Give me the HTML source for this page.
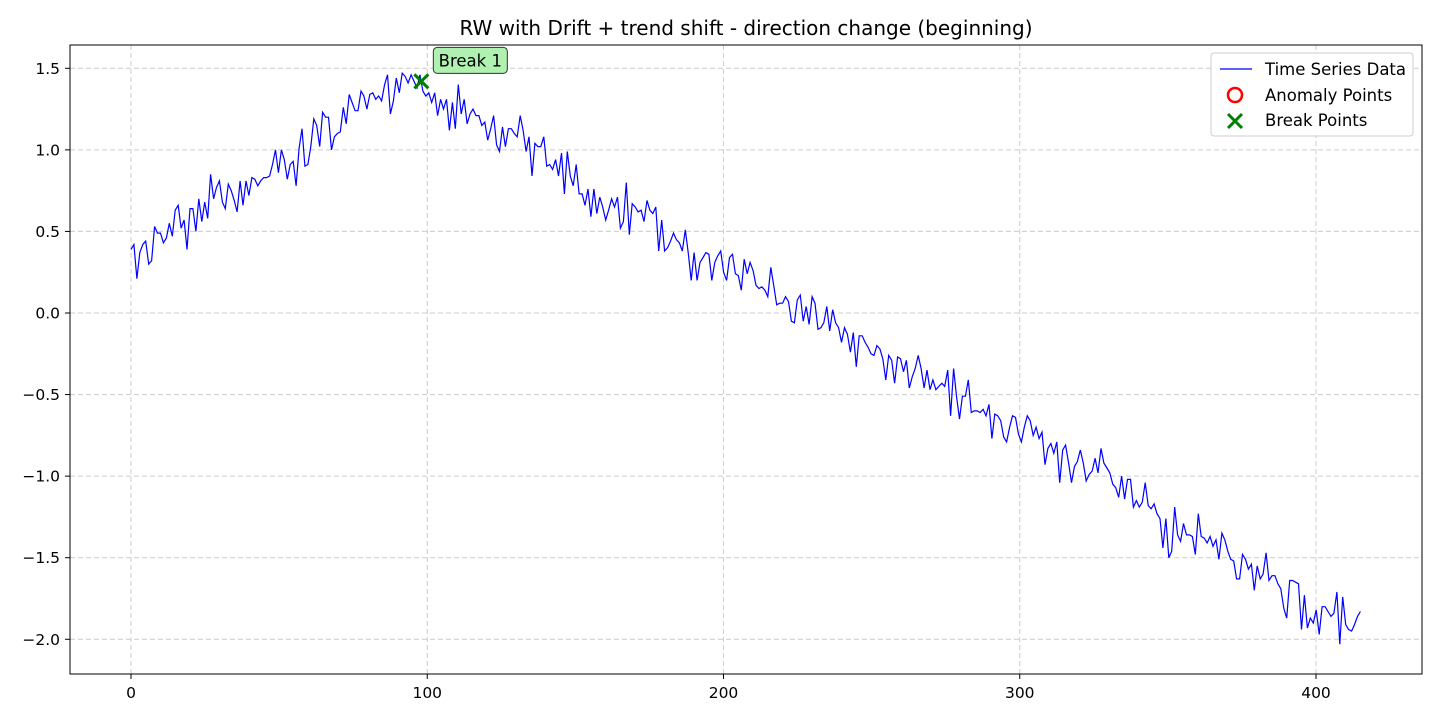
<!DOCTYPE html>
<html><head><meta charset="utf-8"><style>
body{margin:0;background:#fff;font-family:"Liberation Sans","DejaVu Sans",sans-serif}
svg text{font-family:"DejaVu Sans","Liberation Sans",sans-serif}
</style></head><body>
<svg id="c" width="1440" height="720" xmlns="http://www.w3.org/2000/svg">
<rect width="1440" height="720" fill="#fff"/>
<text x="746" y="35" font-size="20" text-anchor="middle">RW with Drift + trend shift - direction change (beginning)</text>
<g id="grid"></g><g id="ticks"></g>
<path id="line" fill="none" stroke="#0000ff" stroke-width="1.2"/>
<g id="marks"></g>
<rect x="70" y="45" width="1352" height="629" fill="none" stroke="#000" stroke-width="1"/>
<g>
<rect x="1211" y="53" width="202" height="83" rx="3" fill="#fff" fill-opacity="0.85" stroke="#ccc"/>
<line x1="1220" y1="69" x2="1252" y2="69" stroke="#0000ff" stroke-width="1.2"/>
<text x="1265" y="75" font-size="16.5">Time Series Data</text>
<circle cx="1235" cy="95" r="7" fill="none" stroke="#ff0000" stroke-width="2.5"/>
<text x="1265" y="101" font-size="16.5">Anomaly Points</text>
<path d="M1228 114 L1242 128 M1242 114 L1228 128" stroke="#008000" stroke-width="3"/>
<text x="1265" y="126" font-size="16.5">Break Points</text>
</g>
</svg>
<script>
const values=[0.39,0.42,0.21,0.37,0.42,0.44,0.30,0.32,0.53,0.49,0.49,0.43,0.46,0.55,0.47,0.63,0.66,0.52,0.57,0.39,0.64,0.64,0.50,0.70,0.56,0.68,0.58,0.85,0.70,0.77,0.81,0.68,0.64,0.79,0.75,0.69,0.62,0.81,0.66,0.81,0.72,0.83,0.82,0.78,0.81,0.83,0.83,0.84,0.91,1.00,0.86,1.00,0.94,0.82,0.91,0.93,0.78,1.01,1.13,0.90,0.91,1.02,1.19,1.15,1.02,1.23,1.20,1.20,1.00,1.08,1.10,1.11,1.26,1.16,1.34,1.29,1.24,1.24,1.36,1.33,1.25,1.34,1.35,1.31,1.33,1.30,1.40,1.46,1.22,1.30,1.44,1.35,1.47,1.45,1.41,1.46,1.42,1.38,
1.46,1.36,1.33,1.35,1.29,1.35,1.21,1.31,1.25,1.31,1.12,1.29,1.13,1.40,1.22,1.31,1.16,1.22,1.25,1.21,1.21,1.15,1.17,1.06,1.13,1.21,1.03,0.99,1.14,1.02,1.13,1.13,1.10,1.08,1.21,1.12,0.99,1.08,0.84,1.04,1.02,1.02,1.08,0.90,0.91,0.88,0.94,0.84,0.98,0.73,0.99,0.84,0.78,0.91,0.73,0.73,0.66,0.76,0.59,0.76,0.61,0.71,0.65,0.57,0.63,0.70,0.65,0.71,0.52,0.56,0.80,0.48,0.67,0.65,0.62,0.63,0.56,0.69,0.63,0.61,0.65,0.38,0.57,0.38,0.40,0.44,0.49,0.45,0.43,0.38,0.51,0.37,0.20,0.37,0.20,0.31,0.34,0.37,
0.36,0.20,0.31,0.35,0.38,0.25,0.20,0.34,0.36,0.24,0.23,0.14,0.33,0.24,0.31,0.26,0.17,0.15,0.16,0.14,0.10,0.28,0.17,0.05,0.06,0.06,0.10,0.07,-0.05,-0.06,0.08,0.11,-0.05,0.04,-0.07,0.10,0.06,-0.10,-0.09,-0.06,0.04,-0.11,0.02,-0.06,-0.09,-0.18,-0.09,-0.13,-0.24,-0.12,-0.33,-0.14,-0.14,-0.18,-0.21,-0.25,-0.26,-0.20,-0.22,-0.28,-0.41,-0.26,-0.29,-0.43,-0.27,-0.28,-0.36,-0.29,-0.46,-0.39,-0.34,-0.26,-0.34,-0.46,-0.35,-0.47,-0.41,-0.47,-0.45,-0.43,-0.45,-0.35,-0.63,-0.34,-0.51,-0.65,-0.51,-0.51,-0.41,-0.61,-0.60,-0.60,-0.61,-0.59,-0.63,-0.56,-0.77,-0.62,-0.63,-0.66,-0.76,-0.79,-0.70,-0.63,
-0.64,-0.74,-0.79,-0.70,-0.63,-0.66,-0.75,-0.70,-0.77,-0.73,-0.93,-0.83,-0.80,-0.86,-0.79,-1.04,-0.84,-0.81,-0.92,-1.04,-0.94,-0.91,-0.84,-0.92,-1.03,-0.99,-0.97,-0.89,-0.98,-0.83,-0.92,-0.95,-0.98,-1.05,-1.07,-1.13,-1.00,-1.14,-1.02,-1.02,-1.19,-1.15,-1.19,-1.16,-1.04,-1.18,-1.20,-1.17,-1.23,-1.26,-1.44,-1.26,-1.50,-1.46,-1.19,-1.36,-1.40,-1.29,-1.36,-1.36,-1.37,-1.48,-1.23,-1.37,-1.38,-1.41,-1.37,-1.43,-1.39,-1.51,-1.35,-1.39,-1.46,-1.51,-1.52,-1.63,-1.63,-1.48,-1.51,-1.57,-1.54,-1.70,-1.55,-1.63,-1.60,-1.47,-1.64,-1.61,-1.61,-1.66,-1.69,-1.81,-1.87,-1.64,-1.64,-1.65,-1.66,-1.94,-1.73,-1.93,-1.87,-1.90,-1.82,-1.97,-1.80,-1.80,-1.83,-1.86,-1.84,-1.71,-2.03,-1.74,-1.91,-1.94,-1.95,-1.91,-1.86,-1.83];
const xTicks=[0,100,200,300,400];
const yTicks=[-2.0,-1.5,-1.0,-0.5,0.0,0.5,1.0,1.5];
const breakX=[98];
const breakY=[1.42];
const breakLabels=["Break 1"];
const NS="http://www.w3.org/2000/svg";
const xStep=415/(values.length-1);
const sx=v=>131+v*2.9625, sy=v=>313-v*163.14;
function mk(t,a,p){const e=document.createElementNS(NS,t);for(const k in a)e.setAttribute(k,a[k]);p.appendChild(e);return e;}
const g=document.getElementById('grid'),tk=document.getElementById('ticks');
xTicks.forEach(v=>{const x=sx(v);
 const l=mk('line',{x1:x,x2:x,y1:45,y2:674,stroke:'#ccc','stroke-dasharray':'5,3'},g);
 
 
 mk('line',{x1:x,x2:x,y1:674,y2:679,stroke:'#000'},tk);
 const t=mk('text',{x:x,y:698,'font-size':15.5,'text-anchor':'middle'},tk);t.textContent=v;
 
 });
yTicks.forEach(v=>{const y=sy(v);
 const l=mk('line',{x1:70,x2:1422,y1:y,y2:y,stroke:'#ccc','stroke-dasharray':'5,3'},g);
 
 
 mk('line',{x1:65,x2:70,y1:y,y2:y,stroke:'#000'},tk);
 const t=mk('text',{x:60,y:y+5.5,'font-size':15.5,'text-anchor':'end'},tk);t.textContent=v.toFixed(1).replace('-','\u2212');
 
 });
document.getElementById('line').setAttribute('d',values.map((v,i)=>(i?'L':'M')+sx(i*xStep).toFixed(1)+' '+sy(v).toFixed(1)).join(''));
const m=document.getElementById('marks');
breakX.forEach((bx,i)=>{const x=sx(bx),y=sy(breakY[i]);
 const p=mk('path',{d:`M${x-7} ${y-7}L${x+7} ${y+7}M${x+7} ${y-7}L${x-7} ${y+7}`,stroke:'#008000','stroke-width':3},m);
 
 
 const r=mk('rect',{x:x+12,y:y-34,width:74,height:26,rx:4,fill:'#b0f0b0',stroke:'#333'},m);
 
 
 const t=mk('text',{x:x+49,y:y-15,'font-size':16.5,'text-anchor':'middle'},m);t.textContent=breakLabels[i];
 
 });
</script>
</body></html>
